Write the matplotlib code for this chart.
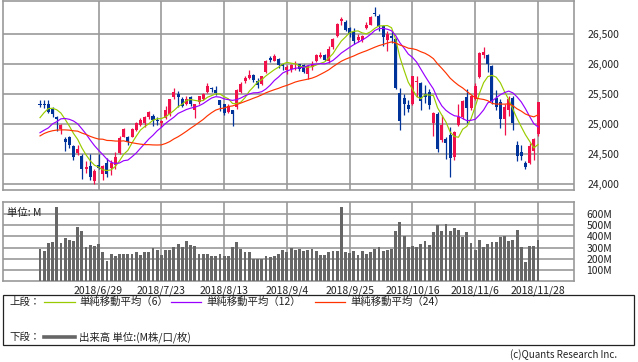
import numpy as np
import matplotlib
matplotlib.use("Agg")
import matplotlib.pyplot as plt
from matplotlib.patches import Rectangle
from matplotlib.lines import Line2D

plt.rcParams['font.family'] = ['Noto Sans CJK JP', 'DejaVu Sans']

# ---------------- data ----------------
dates = ['6/11', '6/12', '6/13', '6/14', '6/15', '6/18', '6/19', '6/20', '6/21', '6/22', '6/25', '6/26', '6/27', '6/28', '6/29',
         '7/2', '7/3', '7/5', '7/6', '7/9', '7/10', '7/11', '7/12', '7/13', '7/16', '7/17', '7/18', '7/19', '7/20', '7/23',
         '7/24', '7/25', '7/26', '7/27', '7/30', '7/31', '8/1', '8/2', '8/3', '8/6', '8/7', '8/8', '8/9', '8/10', '8/13',
         '8/14', '8/15', '8/16', '8/17', '8/20', '8/21', '8/22', '8/23', '8/24', '8/27', '8/28', '8/29', '8/30', '8/31', '9/4',
         '9/5', '9/6', '9/7', '9/10', '9/11', '9/12', '9/13', '9/14', '9/17', '9/18', '9/19', '9/20', '9/21', '9/24', '9/25',
         '9/26', '9/27', '9/28', '10/1', '10/2', '10/3', '10/4', '10/5', '10/8', '10/9', '10/10', '10/11', '10/12', '10/15', '10/16',
         '10/17', '10/18', '10/19', '10/22', '10/23', '10/24', '10/25', '10/26', '10/29', '10/30', '10/31', '11/1', '11/2', '11/5', '11/6',
         '11/7', '11/8', '11/9', '11/12', '11/13', '11/14', '11/15', '11/16', '11/19', '11/20', '11/21', '11/23', '11/26', '11/27', '11/28']

opens = [25330, 25340, 25327, 25257, 25120, 24913, 24750, 24790, 24640, 24520, 24464, 24260, 24311, 24055, 24328,
         24164, 24355, 24273, 24328, 24519, 24792, 24792, 24792, 24901, 24983, 25021, 25120, 25131, 25062, 25020,
         25093, 25175, 25447, 25502, 25421, 25339, 25447, 25229, 25365, 25421, 25529, 25601, 25568, 25393, 25327,
         25202, 25229, 25284, 25529, 25710, 25765, 25819, 25721, 25667, 25857, 26093, 26049, 26076, 25990, 25900,
         25920, 25990, 25990, 25980, 25830, 25950, 26050, 26110, 26140, 26040, 26280, 26460, 26710, 26700, 26600,
         26520, 26400, 26400, 26600, 26650, 26830, 26800, 26630, 26400, 26470, 26420, 25510, 25430, 25320, 25340,
         25700, 25680, 25500, 25540, 25020, 25170, 24735, 24760, 24820, 24457, 24990, 25120, 25450, 25260, 25420,
         25780, 26140, 26150, 25960, 25430, 25370, 25080, 25230, 25430, 24650, 24540, 24350, 24350, 24550, 24830]

highs = [25400, 25400, 25400, 25290, 25140, 25000, 24780, 24810, 24660, 24650, 24500, 24390, 24500, 24250, 24509,
         24320, 24430, 24410, 24530, 24800, 24930, 24810, 24940, 25030, 25100, 25130, 25210, 25170, 25110, 25070,
         25300, 25420, 25600, 25550, 25450, 25460, 25470, 25340, 25470, 25520, 25690, 25620, 25630, 25400, 25340,
         25330, 25240, 25590, 25700, 25790, 25890, 25830, 25760, 25800, 26070, 26130, 26167, 26100, 26000, 25980,
         26000, 26050, 26000, 26000, 25980, 26050, 26160, 26200, 26170, 26290, 26430, 26670, 26770, 26720, 26610,
         26600, 26500, 26480, 26700, 26800, 26950, 26830, 26650, 26550, 26540, 26430, 25600, 25500, 25400, 25800,
         25800, 25700, 25650, 25580, 25200, 25200, 25150, 24790, 24950, 24890, 25330, 25400, 25580, 25480, 25680,
         26200, 26280, 26160, 25980, 25560, 25420, 25330, 25470, 25460, 24720, 24650, 24380, 24680, 24770, 25370]

lows = [25290, 25270, 25180, 25120, 24880, 24830, 24550, 24600, 24410, 24480, 24085, 24180, 24080, 24000, 24250,
        24080, 24130, 24160, 24260, 24500, 24780, 24660, 24780, 24880, 24970, 24950, 25090, 24970, 24990, 24950,
        25080, 25130, 25420, 25280, 25290, 25320, 25300, 25100, 25340, 25400, 25520, 25540, 25480, 25220, 25150,
        25180, 24960, 25250, 25510, 25690, 25740, 25700, 25600, 25650, 25850, 26030, 26040, 25930, 25900, 25830,
        25860, 25900, 25880, 25840, 25750, 25900, 26030, 26090, 26040, 26020, 26250, 26450, 26650, 26540, 26450,
        26330, 26370, 26370, 26580, 26640, 26790, 26540, 26300, 26220, 26350, 25580, 24900, 25150, 25200, 25320,
        25450, 25240, 25350, 25250, 24800, 24530, 24700, 24420, 24120, 24400, 24960, 25090, 25020, 25240, 25400,
        25760, 26100, 25860, 25330, 25230, 24930, 24817, 25130, 24900, 24380, 24400, 24260, 24330, 24400, 24800]

closes = [25322, 25320, 25201, 25175, 25090, 24987, 24700, 24657, 24461, 24581, 24252, 24284, 24117, 24216, 24271,
          24307, 24175, 24357, 24456, 24776, 24920, 24700, 24925, 25019, 25064, 25120, 25199, 25064, 25058, 25044,
          25241, 25415, 25527, 25451, 25307, 25415, 25333, 25326, 25463, 25502, 25629, 25583, 25509, 25313, 25188,
          25300, 25162, 25558, 25669, 25758, 25822, 25733, 25656, 25790, 26049, 26064, 26124, 25987, 25965, 25952,
          25975, 25996, 25917, 25857, 25971, 25998, 26145, 26154, 26062, 26246, 26405, 26657, 26743, 26562, 26492,
          26385, 26439, 26458, 26651, 26774, 26828, 26627, 26447, 26487, 26431, 25599, 25053, 25340, 25250, 25798,
          25706, 25380, 25444, 25317, 25191, 24583, 24985, 24689, 24443, 24875, 25116, 25381, 25270, 25462, 25636,
          26181, 26192, 25989, 25388, 25287, 25081, 25290, 25414, 25018, 24465, 24465, 24286, 24640, 24748, 25366]

volumes = [287, 272, 345, 351, 664, 345, 384, 369, 360, 484, 449, 304, 325, 316, 334,
           257, 177, 245, 227, 245, 245, 245, 245, 263, 236, 263, 263, 298, 281, 236,
           281, 281, 304, 334, 304, 360, 325, 316, 245, 245, 245, 227, 227, 245, 227,
           227, 304, 351, 287, 257, 257, 195, 200, 195, 227, 218, 227, 245, 281, 263,
           300, 275, 287, 266, 275, 287, 272, 236, 236, 257, 266, 272, 664, 263, 251,
           272, 236, 272, 245, 263, 287, 301, 272, 281, 290, 449, 528, 405, 301, 316,
           307, 334, 363, 325, 440, 502, 449, 510, 449, 473, 458, 399, 440, 343, 275,
           369, 307, 334, 351, 351, 396, 405, 363, 369, 458, 304, 168, 316, 316, 369]

# closes of the 23 sessions before the first visible candle (for the moving averages)
pre_closes = [24360, 24542, 24739, 24831, 24899, 24706, 24769, 24714, 24715, 25013, 24834, 24886,
              24811, 24753, 24362, 24668, 24416, 24635, 24814, 24799, 25146, 25241, 25317]

ma_periods = [6, 12, 24]
ma_colors = ['#99cc00', '#9900ff', '#ff3300']
ma_labels = ['単純移動平均（6）', '単純移動平均（12）', '単純移動平均（24）']
tick_dates = ['6/29', '7/23', '8/13', '9/4', '9/25', '10/16', '11/6', '11/28']
price_ticks = [24000, 24500, 25000, 25500, 26000, 26500]
volume_ticks = [100, 200, 300, 400, 500, 600]

UP = '#f0104a'
DOWN = '#003399'
GRID = '#999999'

# ---------------- layout helpers ----------------
W, H = 638, 362
fig = plt.figure(figsize=(W / 100, H / 100), dpi=100)
fig.patch.set_facecolor('white')

def fr(x0, y_top, x1, y_bot):
    return [x0 / W, 1 - y_bot / H, (x1 - x0) / W, (y_bot - y_top) / H]

n = len(closes)
x = np.arange(n)
step = 4.185
first_px = 40
xl = ((3 - first_px) / step, (574 - first_px) / step)
tick_idx = [dates.index(d) for d in tick_dates]

ax1 = fig.add_axes(fr(3, 0.5, 574, 190))
ax2 = fig.add_axes(fr(3, 201.7, 574, 281.2))

for ax in (ax1, ax2):
    ax.set_xlim(*xl)
    for s in ax.spines.values():
        s.set_color(GRID)
        s.set_linewidth(1.2)
    ax.yaxis.tick_right()
    ax.tick_params(length=0, labelsize=7.5, colors='#222222')
    ax.set_xticks(tick_idx)
    ax.grid(True, color=GRID, linewidth=1.2)
    ax.set_axisbelow(True)

# ---------------- price panel ----------------
ax1.set_ylim(23906, 27051)
ax1.set_yticks(price_ticks)
ax1.set_yticklabels([f'{v:,}' for v in price_ticks])
ax1.tick_params(axis='y', pad=10)
ax1.set_xticklabels([])

o = np.array(opens); c = np.array(closes); h = np.array(highs); l = np.array(lows)
cols = [UP if ci >= oi else DOWN for oi, ci in zip(o, c)]
ax1.vlines(x, l, h, colors=cols, linewidth=0.9, zorder=2)
body_lo = np.minimum(o, c)
body_h = np.maximum(np.abs(c - o), 14)
ax1.bar(x, body_h, bottom=body_lo, width=0.72, color=cols, linewidth=0, zorder=3)

all_closes = np.array(pre_closes + closes, dtype=float)
for p, col in zip(ma_periods, ma_colors):
    ma = np.convolve(all_closes, np.ones(p) / p, mode='valid')[-n:]
    ax1.plot(x, ma, color=col, linewidth=0.85, zorder=4)

# ---------------- volume panel ----------------
ax2.set_ylim(0, 710)
ax2.set_yticks(volume_ticks)
ax2.set_yticklabels([f'{v}M' for v in volume_ticks])
ax2.tick_params(axis='y', pad=9)
ax2.tick_params(axis='x', pad=3)
ax2.set_xticklabels([f'2018/{d}' for d in tick_dates])
ax2.bar(x, volumes, width=0.68, color='#666666', linewidth=0, zorder=3)
ax2.text(4 / 571, 1 - 6 / 79.5, '単位: M', transform=ax2.transAxes, fontsize=7.5,
         va='top', ha='left', color='#222222', zorder=5)

# ---------------- legend box ----------------
fig.patches.append(Rectangle((3 / W, 1 - 345 / H), 631 / W, 50 / H, transform=fig.transFigure,
                             fill=False, edgecolor='#222222', linewidth=0.9))

def ftext(px, py, s, **kw):
    fig.text(px / W, 1 - py / H, s, fontsize=7.5, va='center', color='#222222', **kw)

def fline(x0, x1, py, color, lw):
    fig.lines.append(Line2D([x0 / W, x1 / W], [1 - py / H, 1 - py / H], transform=fig.transFigure,
                            color=color, linewidth=lw))

ftext(9, 302, '上段：')
line_x = [(44, 75, 79), (171, 201, 206), (315, 345, 350)]
for (a, b, t), col, lab in zip(line_x, ma_colors, ma_labels):
    fline(a, b, 302, col, 0.9)
    ftext(t, 302, lab)

ftext(9, 337, '下段：')
fline(44, 75, 337, '#666666', 2.6)
ftext(79, 337, '出来高 単位:(M株/口/枚)')

fig.text(617 / W, 1 - 355 / H, '(c)Quants Research Inc.', fontsize=7, ha='right', va='center', color='#222222')

fig.savefig('out.png', dpi=100, facecolor='white')
